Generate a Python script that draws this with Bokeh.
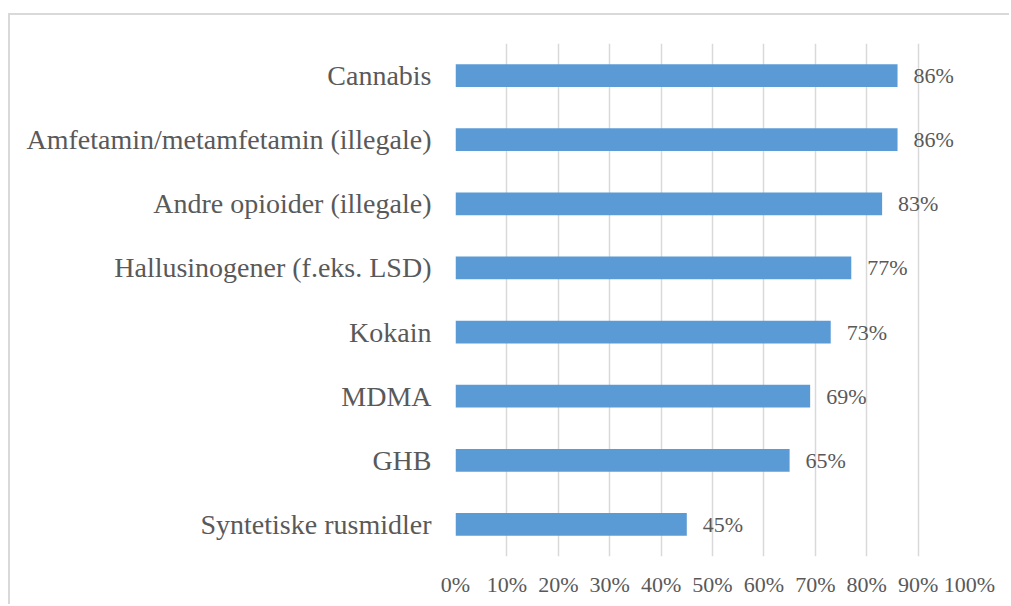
from bokeh.plotting import figure
from bokeh.models import Range1d, FactorRange, ColumnDataSource, FixedTicker
from bokeh.core.properties import value
from bokeh.embed import file_html
from bokeh.resources import INLINE

categories = ["Cannabis", "Amfetamin/metamfetamin (illegale)", "Andre opioider (illegale)",
              "Hallusinogener (f.eks. LSD)", "Kokain", "MDMA", "GHB", "Syntetiske rusmidler"]
values = [86, 86, 83, 77, 73, 69, 65, 45]
value_labels = ["86%", "86%", "83%", "77%", "73%", "69%", "65%", "45%"]
tick_values = [0, 10, 20, 30, 40, 50, 60, 70, 80, 90, 100]
tick_labels = ["0%", "10%", "20%", "30%", "40%", "50%", "60%", "70%", "80%", "90%", "100%"]

FONT = "Liberation Serif"
TXT = "#595959"

src = ColumnDataSource(dict(cat=categories, val=values, lab=value_labels))

p = figure(width=1001, height=591, output_backend="svg", toolbar_location=None,
           y_range=FactorRange(*list(reversed(categories))), x_range=Range1d(0, 100),
           min_border_left=445, min_border_right=42, min_border_top=28, min_border_bottom=50)
p.styles = {"margin-left": "10px", "margin-top": "15px",
            "box-shadow": "-2px -2px 0px 0px #D9D9D9"}
p.outline_line_color = None
p.background_fill_color = "white"
p.border_fill_color = "white"

p.hbar(y="cat", right="val", left=0, height=0.354, source=src, color="#5B9BD5", line_color=None)
p.text(x="val", y="cat", text="lab", source=src, x_offset=16, text_align="left",
       text_baseline="middle", text_font=value(FONT), text_font_size="22px", text_color=TXT)

p.xgrid.grid_line_color = "#D9D9D9"
p.xgrid.grid_line_width = 1.5
p.ygrid.grid_line_color = None

p.xaxis.ticker = FixedTicker(ticks=tick_values)
p.xaxis.major_label_overrides = {v: l for v, l in zip(tick_values, tick_labels)}
for ax in (p.xaxis, p.yaxis):
    ax.axis_line_color = None
    ax.major_tick_line_color = None
    ax.minor_tick_line_color = None
    ax.major_label_text_font = FONT
    ax.major_label_text_color = TXT
p.xaxis.major_label_text_font_size = "22px"
p.xaxis.major_label_standoff = 9
p.yaxis.major_label_text_font_size = "28px"
p.yaxis.major_label_standoff = 18

open("out.html", "w").write(file_html(p, INLINE))
